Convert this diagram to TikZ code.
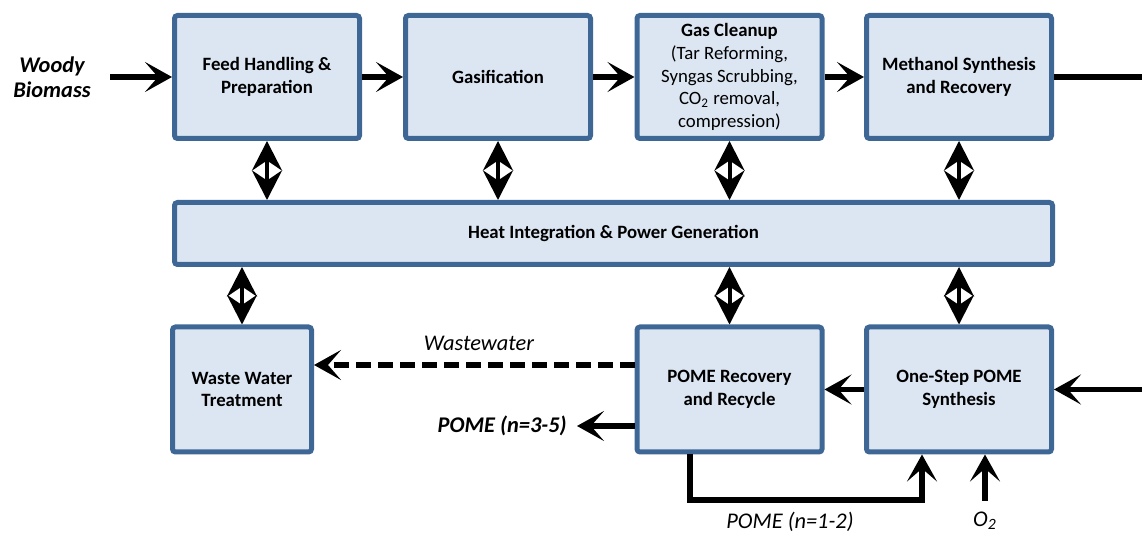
\documentclass[tikz,border=0pt]{standalone}
\usepackage{fontspec}
\setmainfont{Carlito}
\usetikzlibrary{arrows.meta}
\definecolor{boxfill}{HTML}{DCE6F2}
\definecolor{boxline}{HTML}{3F6796}
\begin{document}
\begin{tikzpicture}[x=0.5pt,y=-0.5pt,
		unit/.style={draw=boxline,fill=boxfill,line width=2.5pt,rounded corners=1.5pt,align=center,inner sep=1pt,
			font=\fontsize{9.4}{11.3}\selectfont\bfseries,minimum width=92.5pt,minimum height=61.5pt},
		flow/.style={line width=2.8pt,-{Stealth[length=13.5pt,width=15pt,inset=6.5pt]}},
		both/.style={line width=2pt,{Stealth[length=14.75pt,width=15pt,inset=5pt]}-{Stealth[length=14.75pt,width=15pt,inset=5pt]}},
		stream/.style={font=\fontsize{11.2}{12.6}\selectfont\itshape,align=center,inner sep=0pt}]
	\useasboundingbox (0,0) rectangle (1142,533);
	\node[unit] (feed) at (267,77) {Feed Handling \&\\Preparation};
	\node[unit] (gasif) at (498,77) {Gasification};
	\node[unit] (cleanup) at (729.5,77) {Gas Cleanup\\\mdseries(Tar Reforming,\\\mdseries Syngas Scrubbing,\\\mdseries CO\textsubscript{2} removal,\\\mdseries compression)};
	\node[unit] (methanol) at (959,77) {Methanol Synthesis\\and Recovery};
	\node[unit,minimum width=439pt,minimum height=31pt] (heat) at (613.5,233.5) {Heat Integration \& Power Generation};
	\node[unit,minimum width=69.5pt,minimum height=62.5pt] (wwt) at (242,389.5) {Waste Water\\Treatment};
	\node[unit,minimum height=62.5pt] (recovery) at (729.5,389.5) {POME Recovery\\and Recycle};
	\node[unit,minimum height=62.5pt] (onestep) at (959,389.5) {One-Step POME\\Synthesis};
	\node[stream,font=\fontsize{11.2}{12.6}\selectfont\bfseries\itshape] (biomass) at (52,77) {Woody\\Biomass};
	\coordinate (biomassin) at (110,77);
	\coordinate (meohout) at (1142,77);
	\coordinate (feedin) at (1142,389.5);
	\coordinate (pomeout) at (577,426);
	\coordinate (recyc) at (922,500);
	\coordinate (o2in) at (985,501);
	\draw[flow] (biomassin) -- (feed);
	\draw[flow] (feed) -- (gasif);
	\draw[flow] (gasif) -- (cleanup);
	\draw[flow] (cleanup) -- (methanol);
	\draw[line width=2.8pt] (methanol) -- (meohout);
	\foreach \n in {feed,gasif,cleanup,methanol} \draw[both] (\n.south) -- (\n.south |- heat.north);
	\foreach \n in {wwt,recovery,onestep} \draw[both] (heat.south -| \n.north) -- (\n.north);
	\draw[flow] (feedin) -- (onestep);
	\draw[flow] (onestep) -- (recovery);
	\draw[flow,line width=2.6pt,dash pattern=on 7.5pt off 3.5pt] ([yshift=12.25pt]recovery.west) -- ([yshift=12.25pt]wwt.east);
	\node[stream] (wwlabel) at (479,343) {Wastewater};
	\draw[flow] ([yshift=-18.25pt]recovery.west) -- (pomeout);
	\node[stream,font=\fontsize{11.2}{12.6}\selectfont\bfseries\itshape,anchor=east] (pomeheavy) at (567,426) {POME (n=3-5)};
	\draw[flow] ([xshift=-19.75pt]recovery.south) |- (recyc) -- (recyc |- onestep.south);
	\node[stream] (pomelight) at (790,522) {POME (n=1-2)};
	\draw[flow] (o2in) -- (o2in |- onestep.south);
	\node[stream] (oxygen) at (985,521) {O\textsubscript{2}};
\end{tikzpicture}
\end{document}
